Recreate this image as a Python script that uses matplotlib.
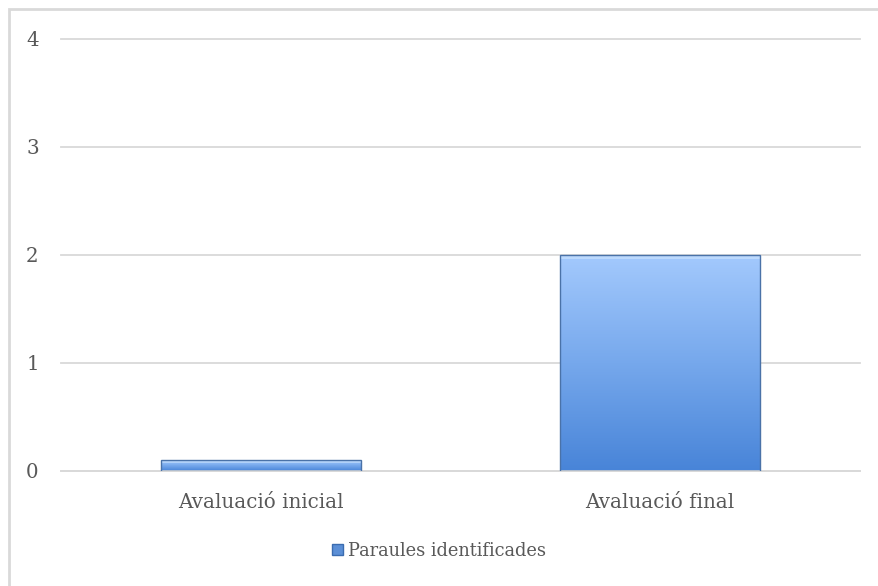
import numpy as np
import matplotlib
matplotlib.use("Agg")
import matplotlib.pyplot as plt
from matplotlib.patches import Rectangle, Patch
from matplotlib.colors import LinearSegmentedColormap

categories = ["Avaluació inicial", "Avaluació final"]
values = [0.1, 2]
series_name = "Paraules identificades"
yticks = [0, 1, 2, 3, 4]

plt.rcParams['font.family'] = ['DejaVu Serif']

fig = plt.figure(figsize=(8.79, 5.86), dpi=100)
ax = fig.add_axes([61 / 879, 1 - 471 / 586, (860 - 61) / 879, (471 - 39) / 586])

# outer chart border (runs off right and bottom edges)
fig.patches.append(Rectangle((9 / 879, -0.05), 1.1, 1 - 9 / 586 + 0.05,
                             transform=fig.transFigure, fill=False,
                             edgecolor='#d9d9d9', linewidth=2))

grad = LinearSegmentedColormap.from_list("bar", ["#4884d8", "#76a8ec", "#a3c9fd"])
width = 0.5
x = np.arange(len(categories))
for xi, v in zip(x, values):
    rect = Rectangle((xi - width / 2, 0), width, v, facecolor='none',
                     edgecolor='#4a72a8', linewidth=1.0, zorder=3)
    ax.add_patch(rect)
    img = np.linspace(0, 1, 256).reshape(-1, 1)
    im = ax.imshow(img, cmap=grad, origin='lower', aspect='auto',
                   extent=(xi - width / 2, xi + width / 2, 0, v), zorder=2)
    im.set_clip_path(rect)
    # soft bevel highlight at top
    h = min(v * 0.3, 0.04)
    hl = Rectangle((xi - width / 2, v - h), width, h,
                   facecolor='#dcefff', alpha=0.45, edgecolor='none', zorder=2.5)
    ax.add_patch(hl)

ax.set_xlim(-0.5, 1.5)
ax.set_ylim(0, 4)
ax.set_yticks(yticks)
ax.set_xticks(x)
ax.set_xticklabels(categories)
ax.yaxis.grid(True, color='#d9d9d9', linewidth=1.3)
for gl in ax.get_ygridlines():
    gl.set_clip_on(False)
ax.set_axisbelow(True)
for s in ['top', 'right', 'left']:
    ax.spines[s].set_visible(False)
ax.spines['bottom'].set_color('#d9d9d9')
ax.spines['bottom'].set_linewidth(1.3)
ax.tick_params(length=0, labelsize=14.3, colors='#595959')
ax.tick_params(axis='y', pad=16)
ax.tick_params(axis='x', pad=16)

handle = Patch(facecolor='#5b8fd6', edgecolor='#3b6cb0', label=series_name)
fig.legend(handles=[handle], loc='center', bbox_to_anchor=(0.5, 1 - 551 / 586),
           frameon=False, fontsize=12.8, handlelength=0.6, handleheight=0.6,
           handletextpad=0.3, labelcolor='#595959')

fig.savefig("out.png", dpi=100)
